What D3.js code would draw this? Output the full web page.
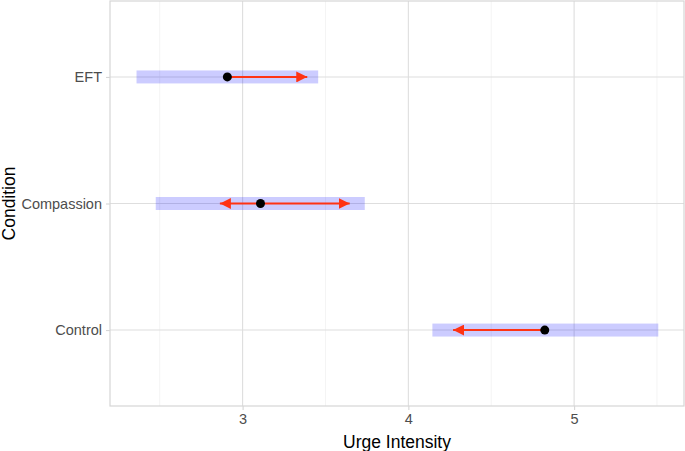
<!DOCTYPE html>
<html>
<head>
<meta charset="utf-8">
<script src="https://cdn.jsdelivr.net/npm/d3@7"></script>
<style>
  body { margin: 0; background: #fff; }
  text { font-family: "Liberation Sans", Arial, sans-serif; }
</style>
</head>
<body>
<div id="chart"></div>
<script>
// data
const conditions = ['EFT', 'Compassion', 'Control'];
const lower = [2.36, 2.476, 4.145];
const upper = [3.456, 3.737, 5.508];
const points = [2.908, 3.108, 4.823];
const arrowFrom = [[2.908], [3.108, 3.108], [4.823]];
const arrowTo = [[3.39], [2.863, 3.646], [4.27]];
const xTicks = [3, 4, 5];
const xMinor = [2.5, 3.5, 4.5, 5.5];

const W = 685, H = 451;
const space = { top: 1, right: 1, bottom: 45, left: 110 };
const w = W - space.left - space.right,
  h = H - space.top - space.bottom;

const svg = d3.select('#chart')
  .append('svg')
  .attr('width', W)
  .attr('height', H);

const g = svg.append('g')
  .attr('transform', `translate(${space.left}, ${space.top})`);

const xScale = d3.scaleLinear().domain([2.2, 5.663]).range([0, w]);
const yScale = d3.scalePoint().domain(conditions).range([0, h]).padding(0.6);

// grid
g.selectAll('.minor')
  .data(xMinor)
  .enter()
  .append('line')
  .attr('x1', d => xScale(d)).attr('x2', d => xScale(d))
  .attr('y1', 0).attr('y2', h)
  .attr('stroke', '#ebebeb')
  .attr('stroke-width', 0.6);

g.selectAll('.major')
  .data(xTicks)
  .enter()
  .append('line')
  .attr('x1', d => xScale(d)).attr('x2', d => xScale(d))
  .attr('y1', 0).attr('y2', h)
  .attr('stroke', '#dedede')
  .attr('stroke-width', 1.1);

g.selectAll('.hgrid')
  .data(conditions)
  .enter()
  .append('line')
  .attr('x1', 0).attr('x2', w)
  .attr('y1', d => yScale(d)).attr('y2', d => yScale(d))
  .attr('stroke', '#dedede')
  .attr('stroke-width', 1.1);

// intervals
g.selectAll('.band')
  .data(conditions)
  .enter()
  .append('rect')
  .attr('x', (d, i) => xScale(lower[i]))
  .attr('width', (d, i) => xScale(upper[i]) - xScale(lower[i]))
  .attr('y', d => yScale(d) - 6.5)
  .attr('height', 13)
  .attr('fill', 'rgba(0,0,255,0.2)');

// arrows
svg.append('defs').append('marker')
  .attr('id', 'head')
  .attr('viewBox', '0 0 10 10')
  .attr('refX', 10).attr('refY', 5)
  .attr('markerUnits', 'userSpaceOnUse')
  .attr('markerWidth', 11).attr('markerHeight', 11)
  .attr('orient', 'auto')
  .append('path')
  .attr('d', 'M0,0 L10,5 L0,10 Z')
  .attr('fill', '#ff3314');

const arrows = [];
conditions.forEach((c, i) => {
  arrowTo[i].forEach((t, j) => arrows.push({ c, from: arrowFrom[i][j], to: t }));
});

g.selectAll('.arrow')
  .data(arrows)
  .enter()
  .append('line')
  .attr('x1', d => xScale(d.from))
  .attr('x2', d => xScale(d.to))
  .attr('y1', d => yScale(d.c))
  .attr('y2', d => yScale(d.c))
  .attr('stroke', '#ff3314')
  .attr('stroke-width', 2)
  .attr('marker-end', 'url(#head)');

g.selectAll('.dot')
  .data(conditions)
  .enter()
  .append('circle')
  .attr('cx', (d, i) => xScale(points[i]))
  .attr('cy', d => yScale(d))
  .attr('r', 4.5)
  .attr('fill', '#000');

// panel border
g.append('rect')
  .attr('x', 0).attr('y', 0)
  .attr('width', w).attr('height', h)
  .attr('fill', 'none')
  .attr('stroke', '#d6d6d6')
  .attr('stroke-width', 1.2);

// axes
const xAxis = g.append('g')
  .attr('transform', `translate(0, ${h})`)
  .call(d3.axisBottom(xScale).tickValues(xTicks).tickSize(4).tickPadding(4).tickFormat(d3.format('d')));
const yAxis = g.append('g')
  .call(d3.axisLeft(yScale).tickSize(4).tickPadding(4));

[xAxis, yAxis].forEach(a => {
  a.select('.domain').remove();
  a.selectAll('.tick line').attr('stroke', '#d6d6d6').attr('stroke-width', 1.1);
  a.selectAll('.tick text')
    .attr('fill', '#4d4d4d')
    .style('font-size', '14.5px')
    .style('font-family', '"Liberation Sans", Arial, sans-serif');
});

svg.append('text')
  .attr('x', space.left + w / 2)
  .attr('y', 447.5)
  .attr('text-anchor', 'middle')
  .style('font-size', '17.5px')
  .text('Urge Intensity');

svg.append('text')
  .attr('transform', `translate(14.5, 203.5) rotate(-90)`)
  .attr('text-anchor', 'middle')
  .style('font-size', '17.5px')
  .text('Condition');
</script>
</body>
</html>
